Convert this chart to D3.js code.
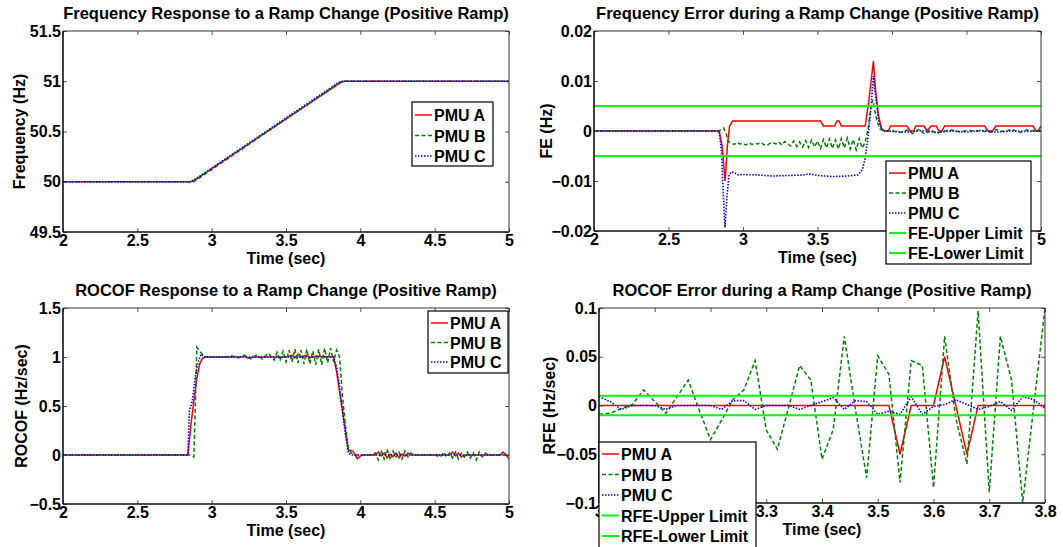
<!DOCTYPE html>
<html>
<head>
<meta charset="utf-8">
<script src="https://cdn.jsdelivr.net/npm/d3@7"></script>
<style>
  body { margin: 0; background: #fff; }
  svg text { font-family: 'Liberation Sans', Arial, sans-serif; font-weight: bold; fill: #000; }
</style>
</head>
<body>
<svg id="chart" width="1063" height="547"></svg>
<script>
// ---- data: [time (sec), value] ----
const freqA = [[2, 50], [2.86, 50], [2.88, 50.01], [2.9, 50.03], [3.86, 50.98], [3.88, 50.995], [3.9, 51], [5, 51]]
const freqB = [[2, 50], [2.88, 50], [2.9, 50.02], [3.86, 50.985], [3.88, 51], [5, 51]]
const freqC = [[2, 50], [2.85, 50], [2.87, 50.01], [2.9, 50.035], [3.85, 50.985], [3.88, 51], [5, 51]]

const feA = [[2, 0], [2.84, 0], [2.86, -0.003], [2.88, -0.010], [2.895, -0.003], [2.91, 0.001], [2.93, 0.002],
  [3.52, 0.002], [3.54, 0.001], [3.615, 0.001], [3.63, 0.002], [3.645, 0.002], [3.66, 0.001], [3.82, 0.001],
  [3.84, 0.005], [3.86, 0.010], [3.875, 0.014], [3.89, 0.008], [3.91, 0.003], [3.93, 0.0005], [3.95, 0],
  [3.975, 0], [3.99, 0.001], [4.10, 0.001], [4.12, 0], [4.145, 0], [4.16, 0.001], [4.215, 0.001], [4.235, 0],
  [4.262, 0.001], [4.297, 0.001], [4.315, 0], [4.335, 0], [4.353, 0.001], [4.623, 0.001], [4.643, 0],
  [4.675, 0], [4.696, 0.001], [4.947, 0.001], [4.967, 0], [4.98, 0], [5.0, 0.001]]
const feB = [[2, 0], [2.84, 0], [2.86, 0.0005], [2.87, 0.0006], [2.89, -0.0008], [2.9, -0.002],
  [2.92, -0.0024], [2.94, -0.0027], [2.96, -0.0023], [2.98, -0.0026], [3.00, -0.0025], [3.02, -0.0028],
  [3.04, -0.0024], [3.06, -0.0027], [3.08, -0.0025], [3.10, -0.0026], [3.12, -0.0023], [3.14, -0.0027],
  [3.16, -0.0029], [3.18, -0.0025], [3.20, -0.0023], [3.22, -0.0026], [3.24, -0.0022], [3.26, -0.0028],
  [3.28, -0.0021], [3.30, -0.0026], [3.32, -0.0030], [3.34, -0.0020], [3.36, -0.0031], [3.38, -0.0022],
  [3.40, -0.0032], [3.42, -0.0019], [3.44, -0.0033], [3.46, -0.0018], [3.48, -0.0032], [3.50, -0.0020],
  [3.52, -0.0035], [3.54, -0.0017], [3.56, -0.0034], [3.58, -0.0016], [3.60, -0.0035], [3.62, -0.0018],
  [3.64, -0.0036], [3.66, -0.0015], [3.68, -0.0034], [3.70, -0.0014], [3.72, -0.0036], [3.74, -0.0017],
  [3.76, -0.0038], [3.78, -0.0015], [3.80, -0.0034], [3.82, -0.0022], [3.84, 0.0005], [3.86, 0.0050],
  [3.87, 0.0062], [3.88, 0.0048], [3.90, 0.0018], [3.92, 0.0004], [3.94, 0.0001], [3.96, 0], [4.0, 0],
  [4.06, -0.0003], [4.1, 0.0002], [4.14, -0.0005], [4.18, 0.0003], [4.22, -0.0006], [4.26, 0.0002],
  [4.3, -0.0005], [4.34, 0], [4.4, 0.0002], [4.46, -0.0002], [4.5, 0.0001], [4.6, 0], [4.66, -0.0003],
  [4.7, 0.0003], [4.76, -0.0002], [4.8, 0.0004], [4.86, -0.0003], [4.9, 0.0002], [4.96, 0], [5.0, 0]]
const feC = [[2, 0], [2.84, 0], [2.855, -0.004], [2.87, -0.014], [2.879, -0.0193], [2.89, -0.014],
  [2.905, -0.009], [2.92, -0.0082], [2.94, -0.0083], [2.97, -0.0088], [3.0, -0.0087], [3.1, -0.0088],
  [3.2, -0.0090], [3.3, -0.0089], [3.4, -0.0088], [3.45, -0.0086], [3.5, -0.0089], [3.6, -0.0091],
  [3.7, -0.0090], [3.77, -0.0088], [3.8, -0.0078], [3.82, -0.0055], [3.84, -0.001], [3.86, 0.005],
  [3.875, 0.011], [3.89, 0.007], [3.91, 0.002], [3.93, 0.0003], [3.95, 0], [4.1, -0.0002], [4.2, 0.0001],
  [4.3, -0.0003], [4.4, 0], [4.5, -0.0002], [4.6, 0.0001], [4.7, -0.0002], [4.8, 0], [4.9, -0.0001], [5, 0]]
const feLimits = [0.005, -0.005]

const rocofA = [[2, 0], [2.84, 0], [2.86, 0.3], [2.88, 0.55], [2.9, 0.78], [2.92, 0.93], [2.94, 0.99],
  [2.96, 1.0], [3.2, 1.0], [3.22, 1.01], [3.24, 0.99], [3.3, 1.0], [3.5, 1.0], [3.54, 1.02], [3.56, 0.99],
  [3.58, 1.03], [3.6, 1.0], [3.64, 1.02], [3.66, 0.99], [3.7, 1.01], [3.82, 1.0], [3.84, 0.85],
  [3.86, 0.65], [3.88, 0.45], [3.9, 0.25], [3.92, 0.05], [3.95, 0.04], [3.98, -0.04], [4.01, 0],
  [4.1, 0], [4.12, 0.03], [4.14, -0.01], [4.16, 0.02], [4.18, -0.03], [4.2, 0.01], [4.22, -0.02],
  [4.24, 0.02], [4.26, -0.03], [4.28, 0.01], [4.3, -0.01], [4.32, 0.02], [4.34, 0], [4.6, 0],
  [4.62, 0.03], [4.64, -0.01], [4.66, 0.02], [4.68, -0.02], [4.7, 0], [4.94, 0], [4.96, 0.03],
  [4.98, 0], [5.0, -0.04]]
const rocofB = [[2, 0], [2.86, 0], [2.88, -0.02], [2.89, 0.5], [2.9, 1.1], [2.92, 1.06], [2.94, 1.02],
  [2.96, 1.0], [3.1, 1.0], [3.14, 1.01], [3.18, 0.99], [3.22, 1.02], [3.26, 0.98], [3.3, 1.02],
  [3.34, 0.98], [3.38, 1.04], [3.42, 0.97], [3.44, 1.05], [3.46, 0.96], [3.48, 1.06], [3.5, 0.95],
  [3.52, 1.07], [3.54, 0.95], [3.56, 1.08], [3.58, 0.94], [3.6, 1.07], [3.62, 0.93], [3.64, 1.08],
  [3.66, 0.93], [3.68, 1.06], [3.7, 0.92], [3.72, 1.08], [3.74, 0.92], [3.76, 1.09], [3.78, 0.94],
  [3.8, 1.09], [3.82, 0.95], [3.84, 1.07], [3.86, 1.0], [3.88, 0.6], [3.9, 0.3], [3.92, 0.06],
  [3.94, 0.02], [3.96, 0], [4.06, 0], [4.1, 0.02], [4.12, -0.05], [4.14, 0.05], [4.16, -0.04],
  [4.18, 0.06], [4.2, -0.05], [4.22, 0.04], [4.24, -0.02], [4.26, 0.03], [4.28, -0.04], [4.3, 0.04],
  [4.32, -0.02], [4.34, 0.02], [4.36, 0], [4.5, 0], [4.54, -0.02], [4.56, 0.03], [4.58, -0.02],
  [4.6, 0.02], [4.62, -0.03], [4.64, 0.03], [4.66, -0.04], [4.68, 0.02], [4.7, -0.02], [4.72, 0.03],
  [4.74, -0.03], [4.76, 0.02], [4.78, -0.05], [4.8, 0.03], [4.82, -0.02], [4.84, 0.02], [4.86, 0], [5, 0]]
const rocofC = [[2, 0], [2.84, 0], [2.85, 0.45], [2.87, 0.55], [2.89, 0.8], [2.91, 0.95], [2.93, 1.03],
  [2.95, 1.0], [3.82, 1.0], [3.84, 0.9], [3.86, 0.7], [3.88, 0.45], [3.9, 0.2], [3.92, 0.02], [3.94, 0], [5, 0]]

const rfeTime = [3.00, 3.02, 3.04, 3.06, 3.08, 3.10, 3.12, 3.14, 3.16, 3.18, 3.20, 3.22, 3.24, 3.26,
  3.28, 3.30, 3.32, 3.34, 3.36, 3.38, 3.40, 3.42, 3.44, 3.46, 3.48, 3.50, 3.52, 3.54, 3.56, 3.58,
  3.60, 3.62, 3.64, 3.66, 3.68, 3.70, 3.72, 3.74, 3.76, 3.78, 3.80]
const rfeA = [0, 0, 0, 0, 0, 0, 0, 0, 0, 0, 0, 0, 0, 0, 0, 0, 0, 0, 0, 0, 0, 0, 0, 0, 0, 0, 0,
  -0.05, 0, 0, 0, 0.05, 0, -0.05, 0, 0, 0, 0, 0, 0, 0]
const rfeB = [-0.009, -0.008, -0.003, 0.001, 0.016, 0.004, -0.008, 0.009, 0.026, -0.005, -0.035,
  -0.015, 0.006, 0.016, 0.046, -0.025, -0.045, -0.002, 0.041, 0.026, -0.055, -0.025, 0.071, -0.004,
  -0.074, 0.051, 0.032, -0.079, 0.046, 0.041, -0.084, 0.071, -0.013, -0.060, 0.097, -0.089, 0.071,
  0.026, -0.100, 0.000, 0.100]
const rfeC = [0.009, 0.004, -0.004, 0, 0, 0, -0.004, 0, 0, 0, 0, -0.004, 0.005, 0.005, -0.004, 0, 0,
  0, -0.004, 0, 0.004, 0.008, -0.004, 0.005, 0.004, -0.009, -0.006, -0.009, 0.009, -0.009, -0.001,
  0.001, 0.006, 0.001, -0.004, -0.001, 0.004, -0.005, 0.009, 0.006, -0.003]
const rfeLimits = [0.01, -0.01]

const pmuNames = ['PMU A', 'PMU B', 'PMU C']
const ticks2to5 = [2, 2.5, 3, 3.5, 4, 4.5, 5]
const ticksRfeX = [3, 3.1, 3.2, 3.3, 3.4, 3.5, 3.6, 3.7, 3.8]

// ---- styles ----
const STYLE_A = { color: '#ff0000', dash: null, width: 1.5 }
const STYLE_B = { color: '#008000', dash: '4,2.5', width: 1.5 }
const STYLE_C = { color: '#0000ff', dash: '1.5,1.5', width: 1.6 }
const STYLE_LIM = { color: '#00ff00', dash: null, width: 2 }
const FONT = 16
const TITLE_FONT = 16.5

const svg = d3.select('#chart')
const zip = (t, v) => t.map((d, i) => [d, v[i]])

function drawPanel (p) {
  const x = d3.scaleLinear().domain(p.xDomain).range([p.left, p.right])
  const y = d3.scaleLinear().domain(p.yDomain).range([p.bottom, p.top])
  const g = svg.append('g')

  g.append('clipPath').attr('id', 'clip-' + p.id)
    .append('rect')
    .attr('x', p.left).attr('y', p.top)
    .attr('width', p.right - p.left).attr('height', p.bottom - p.top)

  // ticks (inward, all four sides)
  const styleAxis = (sel) => {
    sel.select('.domain').remove()
    sel.selectAll('line').attr('stroke', '#555')
    sel.selectAll('text').attr('font-size', FONT).attr('font-family', null)
  }
  g.append('g').attr('class', 'labelled').attr('transform', `translate(0,${p.bottom})`)
    .call(d3.axisBottom(x).tickValues(p.xTicks).tickSize(-4).tickPadding(3).tickFormat(d3.format('')))
    .call(styleAxis)
  g.append('g').attr('transform', `translate(0,${p.top})`)
    .call(d3.axisTop(x).tickValues(p.xTicks).tickSize(-4).tickFormat(''))
    .call(styleAxis)
  g.append('g').attr('class', 'labelled').attr('transform', `translate(${p.left},0)`)
    .call(d3.axisLeft(y).tickValues(p.yTicks).tickSize(-4).tickPadding(2).tickFormat(d3.format('')))
    .call(styleAxis)
  g.append('g').attr('transform', `translate(${p.right},0)`)
    .call(d3.axisRight(y).tickValues(p.yTicks).tickSize(-4).tickFormat(''))
    .call(styleAxis)

  const line = d3.line().x(d => x(d[0])).y(d => y(d[1]))
  const plot = g.append('g').attr('clip-path', `url(#clip-${p.id})`)
  p.series.forEach(s => {
    plot.append('path')
      .datum(s.data)
      .attr('d', line)
      .attr('fill', 'none')
      .attr('stroke', s.style.color)
      .attr('stroke-width', s.style.width)
      .attr('stroke-dasharray', s.style.dash)
  })

  // box
  g.append('line').attr('x1', p.left).attr('x2', p.right).attr('y1', p.top).attr('y2', p.top)
    .attr('stroke', '#333').attr('stroke-width', 1)
  g.append('line').attr('x1', p.right).attr('x2', p.right).attr('y1', p.top).attr('y2', p.bottom)
    .attr('stroke', '#333').attr('stroke-width', 1)
  g.append('line').attr('x1', p.left).attr('x2', p.right).attr('y1', p.bottom).attr('y2', p.bottom)
    .attr('stroke', '#111').attr('stroke-width', 1.6)
  g.append('line').attr('x1', p.left).attr('x2', p.left).attr('y1', p.top).attr('y2', p.bottom)
    .attr('stroke', '#111').attr('stroke-width', 1.6)

  // title and labels
  const cx = (p.left + p.right) / 2
  g.append('text').attr('x', cx).attr('y', p.top - 12)
    .attr('text-anchor', 'middle').attr('font-size', TITLE_FONT).text(p.title)
  g.append('text').attr('x', cx).attr('y', p.bottom + 32)
    .attr('text-anchor', 'middle').attr('font-size', FONT).text('Time (sec)')
  g.append('text')
    .attr('transform', `translate(${p.yLabelX},${(p.top + p.bottom) / 2}) rotate(-90)`)
    .attr('text-anchor', 'middle').attr('font-size', FONT).text(p.yLabel)

  // legend
  const L = p.legend
  // tick labels that sit completely under the legend box are hidden by it
  g.selectAll('.labelled .tick text').each(function () {
    const b = this.getBoundingClientRect()
    if (b.left >= L.x && b.right <= L.x + L.w && b.top >= L.y && b.bottom <= L.y + L.h) {
      d3.select(this).remove()
    }
  })
  const lg = g.append('g')
  lg.append('rect')
    .attr('x', L.x).attr('y', L.y).attr('width', L.w).attr('height', L.h)
    .attr('fill', '#fff').attr('stroke', '#000').attr('stroke-width', 1.2)
  p.series.forEach((s, i) => {
    const ry = L.y + L.first + i * L.step
    lg.append('line')
      .attr('x1', L.x + 3).attr('x2', L.x + 20).attr('y1', ry).attr('y2', ry)
      .attr('stroke', s.style.color).attr('stroke-width', s.style.width)
      .attr('stroke-dasharray', s.style.dash)
    lg.append('text').attr('x', L.x + 22).attr('y', ry + 6)
      .attr('font-size', FONT).text(s.name)
  })
}

const limitLine = (v, dom) => [[dom[0], v], [dom[1], v]]

drawPanel({
  id: 'freq', left: 63, right: 509, top: 31, bottom: 232,
  xDomain: [2, 5], yDomain: [49.5, 51.5], xTicks: ticks2to5, yTicks: [49.5, 50, 50.5, 51, 51.5],
  title: 'Frequency Response to a Ramp Change (Positive Ramp)', yLabel: 'Frequency (Hz)', yLabelX: 25,
  series: [
    { name: pmuNames[0], data: freqA, style: STYLE_A },
    { name: pmuNames[1], data: freqB, style: STYLE_B },
    { name: pmuNames[2], data: freqC, style: STYLE_C }
  ],
  legend: { x: 412, y: 102, w: 81, h: 64, first: 13, step: 20.5 }
})

drawPanel({
  id: 'fe', left: 594, right: 1041, top: 31, bottom: 231,
  xDomain: [2, 5], yDomain: [-0.02, 0.02], xTicks: ticks2to5, yTicks: [-0.02, -0.01, 0, 0.01, 0.02],
  title: 'Frequency Error during a Ramp Change (Positive Ramp)', yLabel: 'FE (Hz)', yLabelX: 552,
  series: [
    { name: pmuNames[0], data: feA, style: STYLE_A },
    { name: pmuNames[1], data: feB, style: STYLE_B },
    { name: pmuNames[2], data: feC, style: STYLE_C },
    { name: 'FE-Upper Limit', data: limitLine(feLimits[0], [2, 5]), style: STYLE_LIM },
    { name: 'FE-Lower Limit', data: limitLine(feLimits[1], [2, 5]), style: STYLE_LIM }
  ],
  legend: { x: 886, y: 161, w: 145, h: 103, first: 12, step: 20 }
})

drawPanel({
  id: 'rocof', left: 63, right: 509, top: 308, bottom: 504,
  xDomain: [2, 5], yDomain: [-0.5, 1.5], xTicks: ticks2to5, yTicks: [-0.5, 0, 0.5, 1, 1.5],
  title: 'ROCOF Response to a Ramp Change (Positive Ramp)', yLabel: 'ROCOF (Hz/sec)', yLabelX: 27,
  series: [
    { name: pmuNames[0], data: rocofA, style: STYLE_A },
    { name: pmuNames[1], data: rocofB, style: STYLE_B },
    { name: pmuNames[2], data: rocofC, style: STYLE_C }
  ],
  legend: { x: 428, y: 311, w: 80, h: 62, first: 12, step: 19.5 }
})

drawPanel({
  id: 'rfe', left: 599, right: 1045, top: 308, bottom: 503,
  xDomain: [3, 3.8], yDomain: [-0.1, 0.1], xTicks: ticksRfeX, yTicks: [-0.1, -0.05, 0, 0.05, 0.1],
  title: 'ROCOF Error during a Ramp Change (Positive Ramp)', yLabel: 'RFE (Hz/sec)', yLabelX: 555,
  series: [
    { name: pmuNames[0], data: zip(rfeTime, rfeA), style: STYLE_A },
    { name: pmuNames[1], data: zip(rfeTime, rfeB), style: STYLE_B },
    { name: pmuNames[2], data: zip(rfeTime, rfeC), style: STYLE_C },
    { name: 'RFE-Upper Limit', data: limitLine(rfeLimits[0], [3, 3.8]), style: STYLE_LIM },
    { name: 'RFE-Lower Limit', data: limitLine(rfeLimits[1], [3, 3.8]), style: STYLE_LIM }
  ],
  legend: { x: 599, y: 442, w: 157, h: 130, first: 12, step: 20.5 }
})
</script>
</body>
</html>
